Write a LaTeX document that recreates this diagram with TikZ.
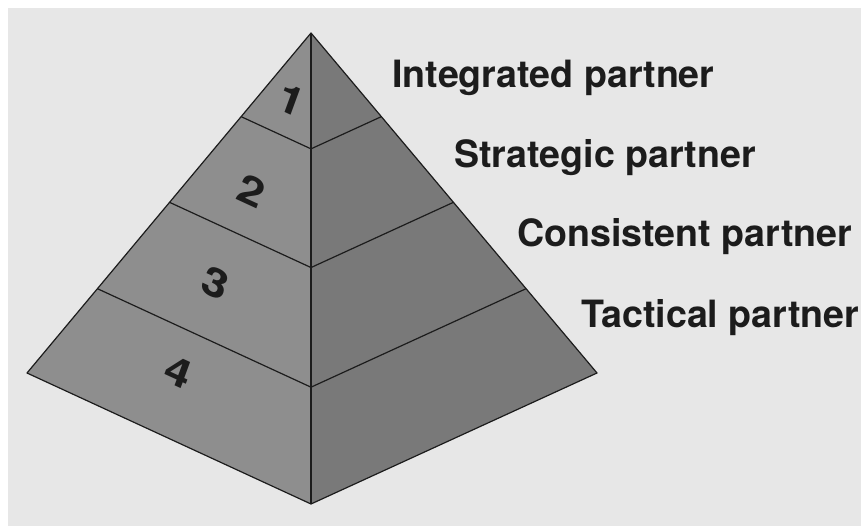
\documentclass[tikz,border=0pt]{standalone}
\usepackage{fontspec}
\setmainfont{TeX Gyre Heros}
\usetikzlibrary{calc}
\definecolor{paper}{HTML}{E7E7E7}
\definecolor{leftface}{HTML}{8E8E8E}
\definecolor{rightface}{HTML}{797979}
\definecolor{ink}{HTML}{1C1C1C}
\tikzset{
  edge/.style={draw=ink, line width=1.2pt, line join=round},
  level label/.style={anchor=base west, inner sep=0pt, text=ink,
    font=\fontsize{37.6}{40}\selectfont\bfseries},
  tier number/.style={inner sep=0pt, text=ink, yslant=-0.46, xslant=0.1,
    font=\fontsize{43}{45}\selectfont\bfseries\itshape}
}
\begin{document}
\begin{tikzpicture}[x=1pt, y=-1pt]
  % page and backdrop
  \fill[white] (0,0) rectangle (861,526);
  \fill[paper] (8,8) rectangle (861,526);
  \useasboundingbox (0,0) rectangle (861,526);

  % pyramid corners
  \coordinate (apex)  at (311,33);
  \coordinate (left)  at (27,373);
  \coordinate (front) at (311,504);
  \coordinate (right) at (597,373);

  % tier boundaries on the three edges
  \foreach \n/\t in {a/0.246, b/0.498, c/0.752} {
    \coordinate (L\n) at ($(apex)!\t!(left)$);
    \coordinate (F\n) at ($(apex)!\t!(front)$);
    \coordinate (R\n) at ($(apex)!\t!(right)$);
  }

  % faces
  \fill[leftface]  (apex) -- (left) -- (front) -- cycle;
  \fill[rightface] (apex) -- (front) -- (right) -- cycle;

  % tier lines
  \foreach \n in {a,b,c} {
    \draw[edge] (L\n) -- (F\n) -- (R\n);
  }

  % outline
  \draw[edge] (apex) -- (left) -- (front) -- (right) -- cycle;
  \draw[edge] (apex) -- (front);

  % tier numbers on the left face
  \node[tier number] (n1) at (290,99)  {1};
  \node[tier number] (n2) at (250,190) {2};
  \node[tier number] (n3) at (214,282) {3};
  \node[tier number] (n4) at (177,371) {4};

  % tier names
  \node[level label] (t1) at (392,88)  {Integrated partner};
  \node[level label] (t2) at (454,168) {Strategic partner};
  \node[level label] (t3) at (517,247) {Consistent partner};
  \node[level label] (t4) at (581,327) {Tactical partner};
\end{tikzpicture}
\end{document}
